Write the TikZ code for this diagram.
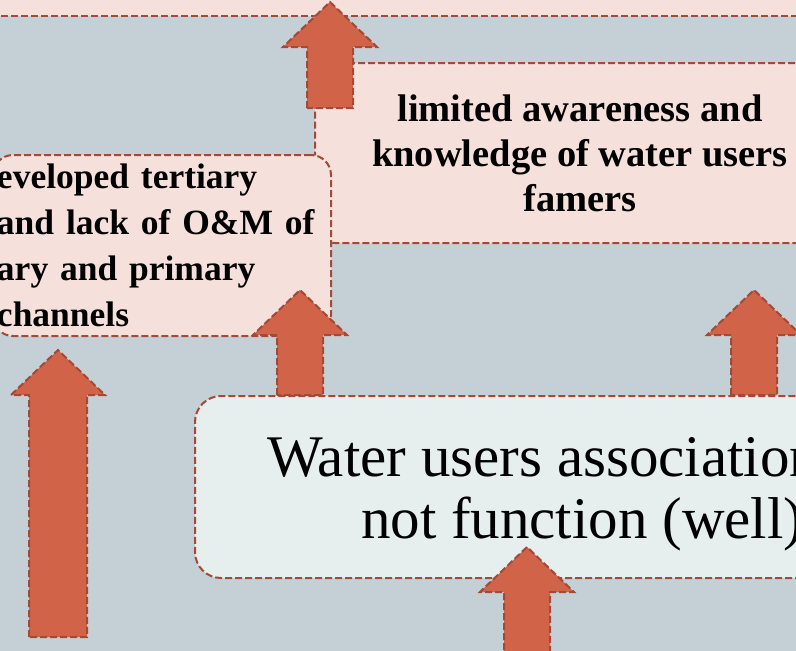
\documentclass[tikz,border=0pt]{standalone}
\usepackage{fontspec}
\setmainfont{Liberation Serif}
\usetikzlibrary{calc}

\definecolor{slate}{RGB}{197,208,214}
\definecolor{blush}{RGB}{246,224,220}
\definecolor{mist}{RGB}{230,238,238}
\definecolor{rust}{RGB}{209,99,73}
\definecolor{rustedge}{RGB}{163,73,55}

\newcommand{\blockarrow}[3][23pt]{%
  \draw[bigarrow] let \p1=#2, \p2=#3 in
    (\x1-#1,\y1) -- (\x1-#1,\y2-45pt) -- (\x2-47pt,\y2-45pt) -- (\p2)
    -- (\x2+47pt,\y2-45pt) -- (\x1+#1,\y2-45pt) -- (\x1+#1,\y1) -- cycle;}

\begin{document}
\begin{tikzpicture}[x=1pt,y=-1pt,
  dashedge/.style={draw=rustedge,line width=2pt,dash pattern=on 7pt off 3pt},
  causebox/.style={dashedge,fill=blush,rounded corners=20pt},
  effectbox/.style={dashedge,fill=mist,rounded corners=26pt},
  bigarrow/.style={dashedge,fill=rust,line join=miter}]
\useasboundingbox (0,0) rectangle (796,651);
\fill[slate] (0,0) rectangle (796,651);

\node[causebox,rounded corners=0pt,anchor=south west,minimum width=840pt,minimum height=60pt] (goal) at (-20,17) {};
\node[causebox,minimum width=530pt,minimum height=180pt,align=center,font=\fontsize{38.5}{45}\selectfont\bfseries] (aware) at (580,153) {limited awareness and\\knowledge of water users\\famers};
\node[causebox,anchor=north east,text width=330pt,inner xsep=4pt,inner ysep=2pt,minimum height=181pt,align=left,font=\fontsize{35.5}{46}\selectfont\bfseries] (infra) at (332,154) {eveloped tertiary\\and lack of O\&M of\\ary and primary\\channels};
\node[effectbox,anchor=north west,minimum height=182pt,inner xsep=72pt,inner ysep=0pt,align=left,font=\fontsize{59}{62}\selectfont] (wua) at (194,395) {\rule{0pt}{53pt}Water users association\\\hspace*{94pt}not function (well)};

\coordinate (goalIn) at (330,2);
\coordinate (awareOut) at (330,108);
\coordinate (infraIn) at (300,290);
\coordinate (awareIn) at (754,290);
\coordinate (leftIn) at (58,350);
\coordinate (leftOut) at (58,637);
\coordinate (wuaIn) at (527,547);
\coordinate (rootOut) at (527,670);

\blockarrow{(awareOut)}{(goalIn)}
\blockarrow{(infraIn |- wua.north)}{(infraIn)}
\blockarrow{(awareIn |- wua.north)}{(awareIn)}
\blockarrow[29pt]{(leftOut)}{(leftIn)}
\blockarrow{(rootOut)}{(wuaIn)}
\end{tikzpicture}
\end{document}
